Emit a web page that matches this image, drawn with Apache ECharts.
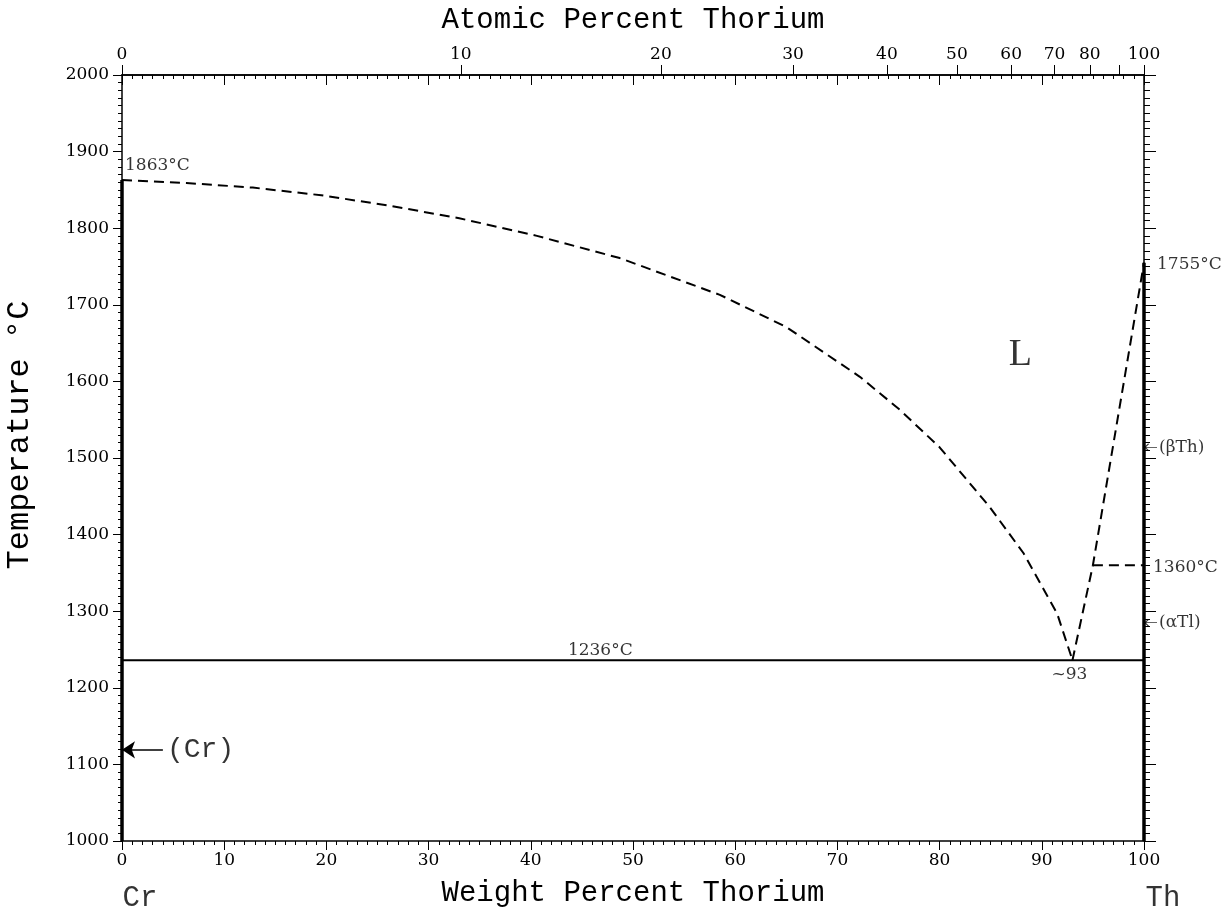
<!DOCTYPE html>
<html>
<head>
<meta charset="utf-8">
<script src="https://cdn.jsdelivr.net/npm/echarts@6/dist/echarts.min.js"></script>
<style>
html,body{margin:0;padding:0;background:#fff;}
#chart{width:1226px;height:912px;}
</style>
</head>
<body>
<div id="chart"></div>
<script>
// ---------- data ----------
const xTitle = 'Weight Percent Thorium';
const topTitle = 'Atomic Percent Thorium';
const yTitle = 'Temperature °C';
const atomicTicks = [0, 10, 20, 30, 40, 50, 60, 70, 80, 90, 100];
const atomicLabels = [0, 10, 20, 30, 40, 50, 60, 70, 80, 100];
const massTh = 232.04;
const massCr = 51.996;

// liquidus from Cr side (wt% Th, °C)
const liquidusCr = [[0, 1863], [6.3, 1859], [12.8, 1853], [19.5, 1843], [25.9, 1830], [33.0, 1813], [40.6, 1790], [48.7, 1761],
  [58.5, 1713], [65.0, 1671], [72.2, 1606], [76.1, 1563], [80.0, 1514], [84.9, 1436], [88.2, 1376], [91.5, 1297], [93.0, 1236]];
// liquidus from Th side
const liquidusTh = [[93.0, 1236], [95.0, 1360], [100, 1755]];
const transition1360 = [[95.0, 1360], [100, 1360]];
const eutectic = [[0, 1236], [100, 1236]];
const crLine = [[0, 1000], [0, 1863]];
const thLine = [[100, 1000], [100, 1755]];
const crArrow = [[4.0, 1119], [0, 1119]];

// annotations: [x, y, text]
const labels1863 = [0, 1863, '1863°C'];
const labels1755 = [100, 1755, '1755°C'];
const labels1360 = [100, 1360, '1360°C'];
const labelEut = [93, 1236, '~93'];
const label1236 = [46.8, 1236, '1236°C'];
const labelL = [87.9, 1634, 'L'];
const labelCr = [0, 1119, '(Cr)'];
const labelBetaTh = [100, 1514, '(βTh)'];
const labelAlphaTl = [100, 1285, '(αTl)'];
const labelCrEnd = [0, 1000, 'Cr'];
const labelThEnd = [100, 1000, 'Th'];

// ---------- helpers ----------
function atToWt(at) {
  const a = at * massTh, b = (100 - at) * massCr;
  return a + b === 0 ? 0 : 100 * a / (a + b);
}
const atomicTickPos = atomicTicks.map(atToWt);
const atomicLabelPos = atomicLabels.map(atToWt);

const tickFont = 'DejaVu Serif';
const monoFont = 'Liberation Mono';
const black = '#000';

function lbl(item, opts) {
  return {
    value: [item[0], item[1]],
    label: Object.assign({
      show: true, formatter: item[2], position: 'inside', color: black,
      fontFamily: tickFont, fontSize: 17, align: 'left', verticalAlign: 'middle'
    }, opts)
  };
}

const chart = echarts.init(document.getElementById('chart'), null, {renderer: 'canvas'});

const baseAxisLine = {show: true, onZero: false, lineStyle: {color: black, width: 1.5}};
const plain = function (v) { return String(v); };

const option = {
  backgroundColor: '#fff',
  animation: false,
  grid: {left: 122, right: 82, top: 75, bottom: 71, containLabel: false, outerBoundsMode: 'none'},
  xAxis: [
    {
      type: 'value', position: 'bottom', min: 0, max: 100, interval: 10,
      axisLine: baseAxisLine,
      axisTick: {show: true, inside: false, length: 9, lineStyle: {color: black, width: 1}},
      minorTick: {show: true, splitNumber: 10, length: 4, lineStyle: {color: black, width: 1}},
      axisLabel: {color: black, fontFamily: tickFont, fontSize: 17, margin: 11, formatter: plain},
      splitLine: {show: false}, minorSplitLine: {show: false},
      name: xTitle, nameLocation: 'middle', nameGap: 38,
      nameTextStyle: {fontFamily: monoFont, fontSize: 29, color: black}
    },
    {
      type: 'value', position: 'top', min: 0, max: 100, interval: 10,
      axisLine: baseAxisLine,
      axisTick: {show: true, inside: true, length: 10, lineStyle: {color: black, width: 1}},
      minorTick: {show: true, splitNumber: 10, length: 4, lineStyle: {color: black, width: 1}},
      axisLabel: {show: false},
      splitLine: {show: false}
    },
    {
      type: 'value', position: 'top', min: 0, max: 100,
      axisLine: baseAxisLine,
      axisTick: {show: true, inside: false, length: 10, customValues: atomicTickPos, lineStyle: {color: black, width: 1}},
      axisLabel: {
        show: true, color: black, fontFamily: tickFont, fontSize: 17, margin: 12,
        customValues: atomicLabelPos,
        formatter: function (v) {
          for (let i = 0; i < atomicLabelPos.length; i++) {
            if (Math.abs(atomicLabelPos[i] - v) < 1e-6) return String(atomicLabels[i]);
          }
          return '';
        }
      },
      splitLine: {show: false},
      name: topTitle, nameLocation: 'middle', nameGap: 40,
      nameTextStyle: {fontFamily: monoFont, fontSize: 29, color: black}
    }
  ],
  yAxis: [
    {
      type: 'value', position: 'left', min: 1000, max: 2000, interval: 100,
      axisLine: baseAxisLine,
      axisTick: {show: true, inside: false, length: 9, lineStyle: {color: black, width: 1}},
      minorTick: {show: true, splitNumber: 10, length: 4, lineStyle: {color: black, width: 1}},
      axisLabel: {color: black, fontFamily: tickFont, fontSize: 17, margin: 13, formatter: plain},
      splitLine: {show: false},
      name: yTitle, nameLocation: 'middle', nameGap: 86,
      nameTextStyle: {fontFamily: monoFont, fontSize: 32, color: black, padding: [0, 0, 0, 46]}
    },
    {
      type: 'value', position: 'right', min: 1000, max: 2000, interval: 100,
      axisLine: baseAxisLine,
      axisTick: {show: true, inside: false, length: 12, lineStyle: {color: black, width: 1}},
      minorTick: {show: true, splitNumber: 10, length: 6, lineStyle: {color: black, width: 1}},
      axisLabel: {show: false},
      splitLine: {show: false}
    }
  ],
  series: [
    {
      name: 'liquidusCr', type: 'line', data: liquidusCr, symbol: 'none',
      smooth: false, clip: false,
      lineStyle: {color: black, width: 2, type: [10, 6]}
    },
    {
      name: 'liquidusTh', type: 'line', data: liquidusTh, symbol: 'none', clip: false,
      lineStyle: {color: black, width: 2, type: [10, 6]}
    },
    {
      name: 'transition', type: 'line', data: transition1360, symbol: 'none', clip: false,
      lineStyle: {color: black, width: 2, type: [10, 6]}
    },
    {
      name: 'eutectic', type: 'line', data: eutectic, symbol: 'none', clip: false,
      lineStyle: {color: black, width: 2}
    },
    {
      name: 'Cr', type: 'line', data: crLine, symbol: 'none', clip: false,
      lineStyle: {color: black, width: 3.5},
      markLine: {
        silent: true, symbol: ['none', 'arrow'], symbolSize: 13,
        label: {show: false},
        lineStyle: {color: black, width: 1.5, type: 'solid'},
        data: [[{coord: crArrow[0]}, {coord: crArrow[1]}]]
      }
    },
    {
      name: 'Th', type: 'line', data: thLine, symbol: 'none', clip: false,
      lineStyle: {color: black, width: 3.5}
    },
    {
      name: 'arrows', type: 'scatter', clip: false, silent: true,
      symbol: 'path://M0,5 L20,5 M0,5 L6,1 M0,5 L6,9',
      symbolSize: [12, 7], symbolOffset: [7, 0],
      itemStyle: {color: 'none', borderColor: black, borderWidth: 1},
      data: [[labelBetaTh[0], labelBetaTh[1]], [labelAlphaTl[0], labelAlphaTl[1]]]
    },
    {
      name: 'labels', type: 'scatter', clip: false, silent: true, symbolSize: 1,
      itemStyle: {color: 'transparent'},
      data: [
        lbl(labels1863, {offset: [3, -14]}),
        lbl(labels1755, {offset: [13, 2]}),
        lbl(labels1360, {offset: [9, 2]}),
        lbl(labelEut, {align: 'center', offset: [-3, 14]}),
        lbl(label1236, {align: 'center', offset: [0, -10]}),
        lbl(labelL, {align: 'center', fontFamily: 'Liberation Serif', fontSize: 38}),
        lbl(labelCr, {offset: [45, 0], fontFamily: monoFont, fontSize: 28}),
        lbl(labelBetaTh, {offset: [15, 0], fontSize: 17}),
        lbl(labelAlphaTl, {offset: [15, 0], fontSize: 17}),
        lbl(labelCrEnd, {align: 'center', offset: [18, 57], fontFamily: monoFont, fontSize: 29}),
        lbl(labelThEnd, {align: 'center', offset: [19, 57], fontFamily: monoFont, fontSize: 29})
      ]
    }
  ]
};
chart.setOption(option);
</script>
</body>
</html>
